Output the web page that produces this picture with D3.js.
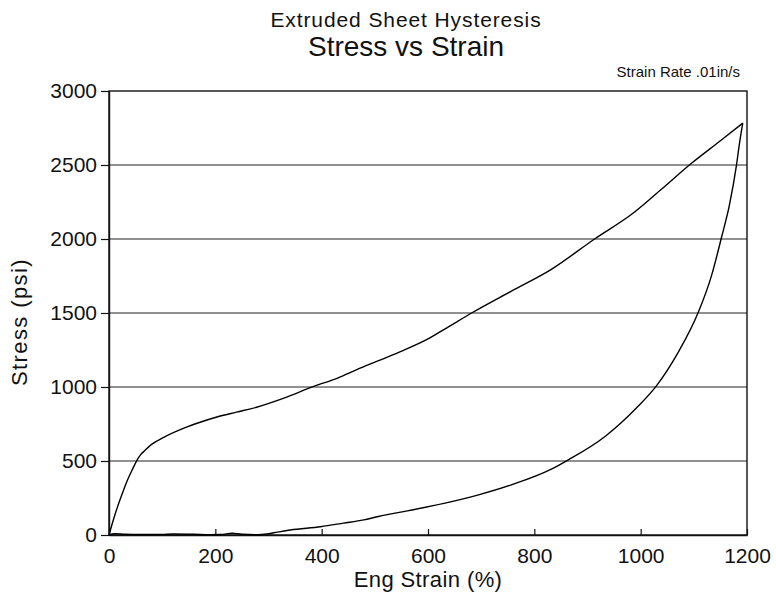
<!DOCTYPE html>
<html>
<head>
<meta charset="utf-8">
<script src="https://cdn.jsdelivr.net/npm/d3@7"></script>
<style>
  html, body { margin: 0; padding: 0; background: #fff; }
  svg { display: block; font-family: "Liberation Sans", Arial, Helvetica, sans-serif; }
</style>
</head>
<body>
<svg id="chart" width="776" height="595"></svg>
<script>
// ---- Data ----
const titleLine1 = "Extruded Sheet Hysteresis";
const titleLine2 = "Stress vs Strain";
const noteText = "Strain Rate .01in/s";
const xLabel = "Eng Strain (%)";
const yLabel = "Stress (psi)";

const xTicks = [0, 200, 400, 600, 800, 1000, 1200];
const yTicks = [0, 500, 1000, 1500, 2000, 2500, 3000];
const gridValues = [500, 1000, 1500, 2000, 2500];

// Loading branch (strain %, stress psi)
const loadStrain = [0, 8, 16, 25, 34, 45, 53, 60, 66, 80, 103, 141, 170, 203, 240, 279, 329, 385, 430, 466, 507, 554, 600, 640, 682, 757, 832, 914, 983, 1039, 1095, 1150, 1192];
const loadStress = [0, 100, 190, 280, 365, 450, 508, 545, 566, 612, 660, 722, 760, 797, 830, 865, 925, 1004, 1060, 1117, 1178, 1248, 1325, 1410, 1500, 1648, 1795, 2002, 2167, 2336, 2510, 2664, 2783];

// Unloading branch (strain %, stress psi), from the peak back to zero
const unloadStrain = [1192, 1186, 1180, 1167, 1152, 1133, 1108, 1070, 1030, 992, 933, 864, 832, 757, 695, 632, 570, 554, 507, 479, 441, 398, 341, 310, 297, 280, 250, 232, 210, 190, 160, 120, 100, 60, 30, 10, 0];
const unloadStress = [2783, 2650, 2494, 2230, 2010, 1749, 1501, 1230, 1009, 858, 666, 508, 445, 339, 271, 215, 169, 158, 125, 102, 80, 56, 34, 15, 7, 2, 5, 12, 3, 2, 5, 7, 4, 3, 5, 8, 0];

// ---- Layout ----
const margin = { left: 109, right: 776 - 747, top: 91, bottom: 595 - 535 };
const W = 776, H = 595;
const svg = d3.select("#chart");

const x = d3.scaleLinear().domain([0, 1200]).range([margin.left, W - margin.right]);
const y = d3.scaleLinear().domain([0, 3000]).range([H - margin.bottom, margin.top]);

// Grid lines
svg.append("g").selectAll("line").data(gridValues).join("line")
  .attr("x1", x(0)).attr("x2", x(1200))
  .attr("y1", d => y(d)).attr("y2", d => y(d))
  .attr("stroke", "#222").attr("stroke-width", 1);

// Frame
svg.append("rect")
  .attr("x", x(0)).attr("y", y(3000))
  .attr("width", x(1200) - x(0)).attr("height", y(0) - y(3000))
  .attr("fill", "none").attr("stroke", "#111").attr("stroke-width", 1.4);

// Axes
const xAxis = d3.axisBottom(x).tickValues(xTicks).tickFormat(d3.format("d"))
  .tickSizeInner(-6).tickSizeOuter(0).tickPadding(13);
const gx = svg.append("g").attr("transform", `translate(0,${y(0)})`).call(xAxis);
gx.select(".domain").attr("stroke", "#111").attr("stroke-width", 1.4);
gx.selectAll(".tick line").attr("stroke", "#111").attr("stroke-width", 1.2);
gx.selectAll(".tick text").attr("font-size", 21).attr("fill", "#111")
  .attr("font-family", "'Liberation Sans', Arial, sans-serif");

const yAxis = d3.axisLeft(y).tickValues(yTicks).tickFormat(d3.format("d"))
  .tickSizeInner(8).tickSizeOuter(0).tickPadding(4);
const gy = svg.append("g").attr("transform", `translate(${x(0)},0)`).call(yAxis);
gy.select(".domain").attr("stroke", "#111").attr("stroke-width", 1.4);
gy.selectAll(".tick line").attr("stroke", "#111").attr("stroke-width", 1.2);
gy.selectAll(".tick text").attr("font-size", 21).attr("fill", "#111")
  .attr("font-family", "'Liberation Sans', Arial, sans-serif");

// Curves (smoothed through the read points)
const line = d3.line().x(d => x(d[0])).y(d => y(d[1])).curve(d3.curveMonotoneX);
const loadPts = loadStrain.map((s, i) => [s, loadStress[i]]);
const unloadPts = unloadStrain.map((s, i) => [s, unloadStress[i]]).reverse();
svg.append("path").datum(loadPts).attr("d", line)
  .attr("fill", "none").attr("stroke", "#000").attr("stroke-width", 1.4).attr("stroke-linejoin", "round");
svg.append("path").datum(unloadPts).attr("d", line)
  .attr("fill", "none").attr("stroke", "#000").attr("stroke-width", 1.4).attr("stroke-linejoin", "round");

// Titles
svg.append("text").attr("x", 406).attr("y", 27).attr("text-anchor", "middle")
  .attr("font-size", 21).attr("letter-spacing", "0.9px").attr("fill", "#111").text(titleLine1);
svg.append("text").attr("x", 406).attr("y", 56).attr("text-anchor", "middle")
  .attr("font-size", 28).attr("fill", "#111").text(titleLine2);
svg.append("text").attr("x", 740).attr("y", 77).attr("text-anchor", "end")
  .attr("font-size", 15).attr("fill", "#111").text(noteText);

// Axis labels
svg.append("text").attr("x", 428).attr("y", 587).attr("text-anchor", "middle")
  .attr("font-size", 22).attr("letter-spacing", "0.4px").attr("fill", "#111").text(xLabel);
svg.append("text").attr("transform", "translate(27,322) rotate(-90)")
  .attr("text-anchor", "middle").attr("font-size", 22).attr("letter-spacing", "1.4px")
  .attr("fill", "#111").text(yLabel);
</script>
</body>
</html>
